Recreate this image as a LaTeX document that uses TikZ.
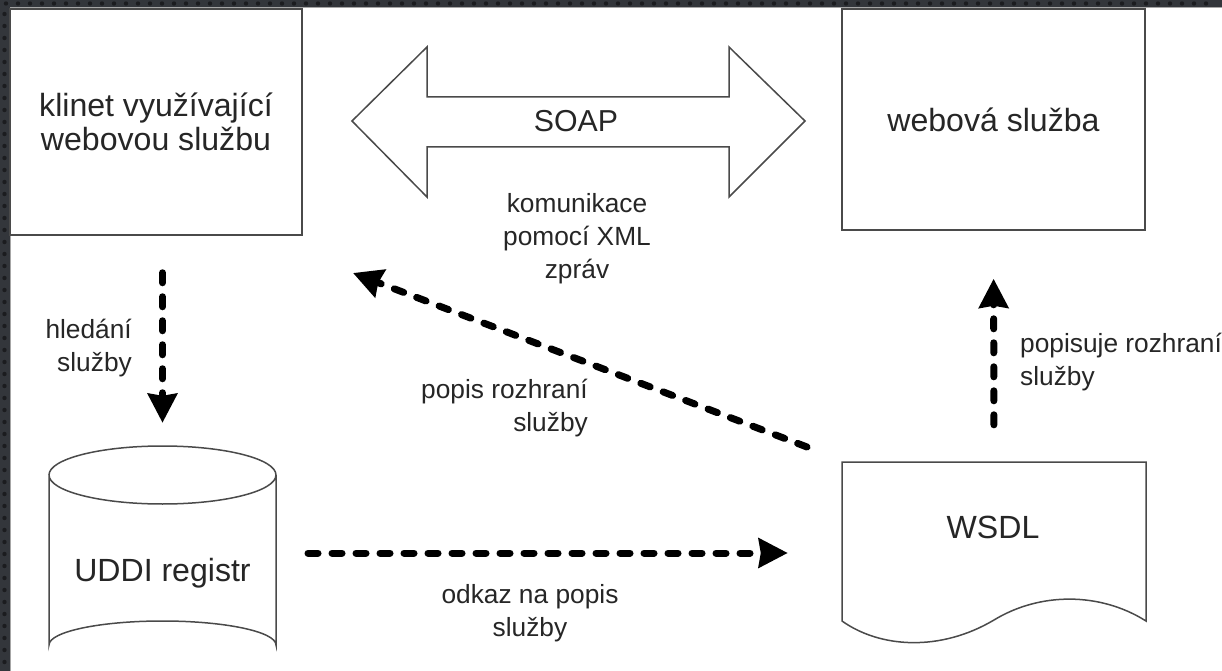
\documentclass[tikz,border=0pt]{standalone}
\usepackage{fontspec}
\setmainfont{Liberation Sans}
\usetikzlibrary{arrows.meta,calc}
\definecolor{frame}{HTML}{33363B}
\definecolor{framedot}{HTML}{1B1C1F}
\definecolor{edge}{HTML}{4A4A4A}
\definecolor{ink}{HTML}{262626}
\tikzset{
  box/.style={draw=edge, line width=1.5bp, fill=white, align=center, inner sep=0pt,
    text=ink, font=\fontsize{32.2}{34.3}\selectfont},
  ghost/.style={inner sep=0pt},
  lbl/.style={text=ink, inner sep=0pt, font=\fontsize{26.4}{33.1}\selectfont},
  dasharrow/.style={line width=7bp, line cap=round, dash pattern=on 10bp off 14bp,
    -{Stealth[length=29bp,width=29bp,inset=2bp]}},
  outline/.style={draw=edge, line width=1.5bp, fill=white}
}
\begin{document}
\begin{tikzpicture}[x=1bp,y=-1bp]
\useasboundingbox (0,0) rectangle (1222,671);
\fill[white] (0,0) rectangle (1222,671);
% dark frame (top and left only)
\fill[frame] (0,0) rectangle (1222,7);
\fill[frame] (0,0) rectangle (10,671);
\foreach \i in {0,12,...,1210} \fill[framedot] (\i+6,3.5) circle[radius=2.2];
\foreach \j in {12,24,...,660} \fill[framedot] (4.5,\j+2) circle[radius=2.2];
\draw[black!35, line width=1bp] (10.5,671) -- (10.5,7.5) -- (1222,7.5);

% boxes
\node[box, minimum width=292bp, minimum height=226bp] (client) at (156,122) {klinet využívající\\webovou službu};
\node[box, minimum width=303bp, minimum height=221bp] (web) at (993.5,119.5) {webová služba};

% SOAP double arrow
\draw[outline] (352,121) -- (427,47) -- (427,97) -- (729,97) -- (729,47) -- (805,121)
  -- (729,197) -- (729,147) -- (427,147) -- (427,197) -- cycle;
\node[ghost, text=ink, font=\fontsize{30.4}{34}\selectfont] (soap) at (576,121) {SOAP};
\node[lbl, align=center] (komm) at (577,239) {komunikace\\pomocí XML\\zpráv};

% UDDI cylinder
\node[ghost, minimum width=227bp, minimum height=224bp] (uddi) at (162.5,558) {};
\draw[outline] (49,475) -- (49,645) arc[start angle=180, end angle=360, x radius=113.5, y radius=24]
  -- (276,475) arc[start angle=0, end angle=180, x radius=113.5, y radius=29] -- cycle;
\draw[draw=edge, line width=1.5bp] (49,475) arc[start angle=180, end angle=360, x radius=113.5, y radius=29];
\node[ghost, text=ink, font=\fontsize{32.2}{34}\selectfont] (uddilabel) at (162.5,573) {UDDI registr};

% WSDL document
\node[ghost, minimum width=304bp, minimum height=181bp] (wsdl) at (994,552.5) {};
\draw[outline] (842,621) -- (842,462) -- (1146,462) -- (1146,621)
  .. controls (1100,592) and (1040,592) .. (994,620)
  .. controls (940,652) and (880,648) .. (842,621) -- cycle;
\node[ghost, text=ink, font=\fontsize{32.2}{34}\selectfont] (wsdllabel) at (993,527) {WSDL};

% connectors
\draw[dasharrow, shorten <=37bp, shorten >=23bp] (uddi.north |- client.south) -- (uddi.north);
\node[lbl, anchor=east, align=right] (hled) at (132,348) {hledání\\služby};

\coordinate (dstart) at (807,447);
\coordinate (dtip) at (353,273);
\draw[dasharrow] (dstart) -- (dtip);
\node[lbl, anchor=east, align=right] (popis) at (588,408) {popis rozhraní\\služby};

\draw[dasharrow, shorten <=37bp, shorten >=48bp] (wsdl.north) -- (web.south);
\node[lbl, anchor=west, align=left] (popisuje) at (1020,362) {popisuje rozhraní\\služby};

\coordinate (ustart) at (308,553);
\draw[dasharrow, shorten >=54bp] (ustart) -- (wsdl.west |- ustart);
\node[lbl, align=center] (odkaz) at (530,613) {odkaz na popis\\služby};
\end{tikzpicture}
\end{document}
